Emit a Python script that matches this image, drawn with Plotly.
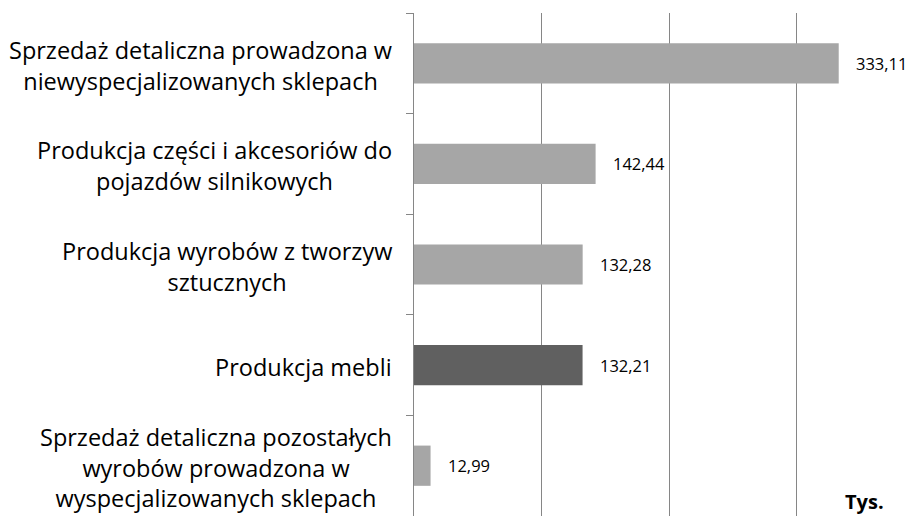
import plotly.graph_objects as go

categories = [
    "Sprzedaż detaliczna prowadzona w<br>niewyspecjalizowanych sklepach",
    "Produkcja części i akcesoriów do<br>pojazdów silnikowych",
    "Produkcja wyrobów z tworzyw<br>sztucznych",
    "Produkcja mebli",
    "Sprzedaż detaliczna pozostałych<br>wyrobów prowadzona w<br>wyspecjalizowanych sklepach",
]
values = [333.11, 142.44, 132.28, 132.21, 12.99]
value_labels = ["333,11", "142,44", "132,28", "132,21", "12,99"]
bar_colors = ["#a6a6a6", "#a6a6a6", "#a6a6a6", "#606060", "#a6a6a6"]
unit_label = "Tys."

FONT = "Open Sans"
# page has an 8px body margin; figure sized to fill the rest of the window
W, H = 905, 509
ml, mr, mt, mb = 406, 0, 5, 1
PW = W - ml - mr
PH = H - mt - mb

fig = go.Figure()
fig.add_trace(go.Bar(
    y=categories, x=values, orientation="h",
    marker=dict(color=bar_colors, line=dict(width=0)),
    width=0.4, hoverinfo="skip",
))

for c, v, t in zip(categories, values, value_labels):
    fig.add_annotation(x=v, y=c, xref="x", yref="y", text=t, showarrow=False,
                       xanchor="left", xshift=15,
                       font=dict(family=FONT, size=16.5, color="#000000"))
    fig.add_annotation(x=0, y=c, xref="paper", yref="y", text=c, showarrow=False,
                       xanchor="right", align="center", xshift=-20, yshift=-2,
                       font=dict(family=FONT, size=23.5, color="#000000"))

fig.add_annotation(x=(856 - ml) / PW, y=(H - mb - 509) / PH, xref="paper", yref="paper",
                   text="<b>" + unit_label + "</b>", showarrow=False,
                   xanchor="center", yanchor="bottom",
                   font=dict(family=FONT, size=20, color="#000000"))

fig.update_layout(
    width=W, height=H,
    margin=dict(l=ml, r=mr, t=mt, b=mb),
    paper_bgcolor="white", plot_bgcolor="white",
    showlegend=False,
    font=dict(family=FONT),
    xaxis=dict(range=[0, PW / 1.275], dtick=100, showgrid=True,
               gridcolor="#868686", gridwidth=1, zeroline=False,
               showticklabels=False, showline=False, ticks="", fixedrange=True),
    yaxis=dict(autorange="reversed", showline=True, linecolor="#868686", linewidth=1,
               ticks="outside", ticklen=7, tickcolor="#868686", tickwidth=1,
               tickson="boundaries", showticklabels=False, showgrid=False,
               fixedrange=True),
)

fig.write_html("out.html")
